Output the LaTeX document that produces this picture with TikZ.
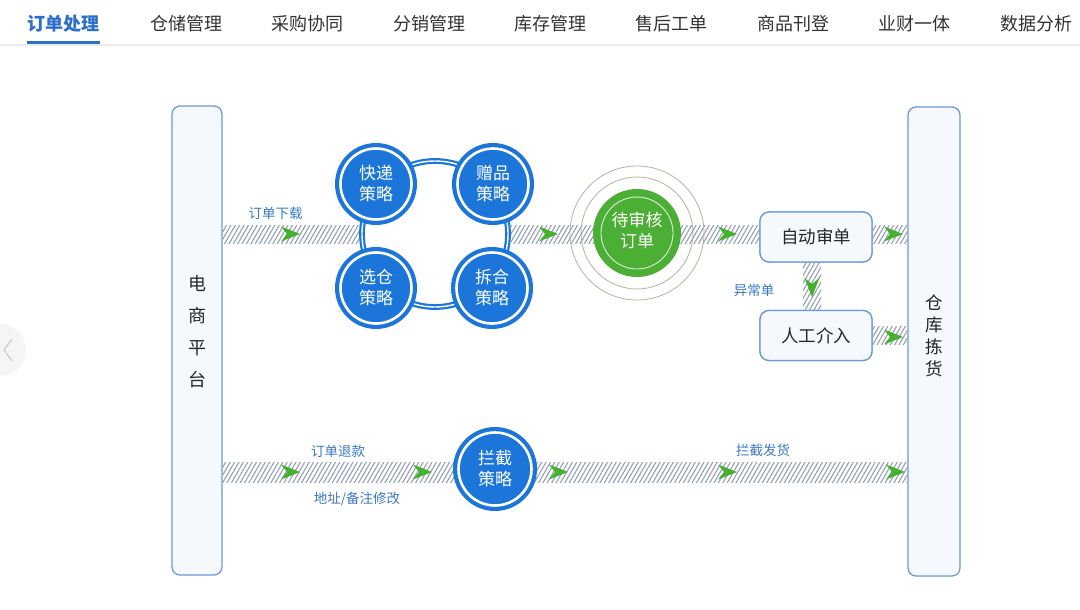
\documentclass[tikz,border=0pt]{standalone}
\usepackage{fontspec}
\setmainfont{Noto Sans CJK SC}
\usetikzlibrary{patterns.meta,calc}
\definecolor{tabtext}{HTML}{333333}
\definecolor{tabblue}{HTML}{2C6FCB}
\definecolor{lineg}{HTML}{EDEDED}
\definecolor{boxborder}{HTML}{6B9AD8}
\definecolor{boxfill}{HTML}{F5F8FD}
\definecolor{stratblue}{HTML}{1C76DA}
\definecolor{lblblue}{HTML}{3A78C8}
\definecolor{hatch}{HTML}{939FB5}
\definecolor{arrowgreen}{HTML}{45B02C}
\definecolor{pendgreen}{HTML}{4CAF35}
\definecolor{ringolive}{HTML}{B3B39C}
\tikzset{
  tab/.style={font=\fontsize{18}{20}\selectfont, text=tabtext, inner sep=0pt},
  tabactive/.style={tab, text=tabblue, font=\fontsize{18}{20}\selectfont\bfseries},
  sidebox/.style={draw=boxborder, line width=1.3pt, fill=boxfill, rounded corners=8pt, minimum width=50pt, minimum height=469pt, inner sep=0pt},
  sidetext/.style={align=center, text=black!85, inner sep=0pt},
  stepbox/.style={draw=boxborder, line width=1.3pt, fill=boxfill, rounded corners=9pt, minimum width=112pt, minimum height=50pt, font=\fontsize{17.5}{20}\selectfont, text=black!85},
  strat/.style={circle, fill=stratblue, minimum size=82pt, inner sep=0pt, align=center, text=white, font=\fontsize{17}{21}\selectfont},
  stratring/.style={draw=white, line width=2.6pt},
  band/.style={pattern={Lines[angle=60,distance=3.8pt,line width=1.1pt]}, pattern color=hatch},
  lbl/.style={text=lblblue, font=\fontsize{13.5}{16}\selectfont, inner sep=0pt},
  garrow/.style={fill=arrowgreen},
}
\newcommand{\garR}[2]{\fill[garrow] (#1,#2) -- ++(-19,-7.5) -- ++(6,7.5) -- ++(-6,7.5) -- cycle;}
\newcommand{\garD}[2]{\fill[garrow] (#1,#2) -- ++(-7.5,-19) -- ++(7.5,6) -- ++(7.5,-6) -- cycle;}
\begin{document}
\begin{tikzpicture}[x=1pt,y=-1pt]
\useasboundingbox (0,0) rectangle (1080,610);
\fill[white] (0,0) rectangle (1080,610);

% tab bar
\draw[lineg, line width=1.6pt] (0,45) -- (1080,45);
\node[tabactive] (t1) at (63.5,23.5) {订单处理};
\node[tab] (t2) at (186.5,23.5) {仓储管理};
\node[tab] (t3) at (307,23.5) {采购协同};
\node[tab] (t4) at (429,23.5) {分销管理};
\node[tab] (t5) at (550,23.5) {库存管理};
\node[tab] (t6) at (671,23.5) {售后工单};
\node[tab] (t7) at (793,23.5) {商品刊登};
\node[tab] (t8) at (914,23.5) {业财一体};
\node[tab] (t9) at (1036,23.5) {数据分析};
\draw[tabblue, line width=2.2pt] (t1.west |- 0,42.5) -- (t1.east |- 0,42.5);

% faint carousel control
\fill[black!4] (0,350) circle (26);
\draw[black!20, line width=1.2pt] (12,339) -- (4,350) -- (12,361);

% side boxes
\node[sidebox] (ec) at (197,340.5) {};
\node[sidetext, font=\fontsize{18}{32}\selectfont] (ect) at (197,332) {电\\商\\平\\台};
\node[sidebox, minimum width=52pt] (wh) at (934,341.5) {};
\node[sidetext, font=\fontsize{17.5}{22}\selectfont] (wht) at (934,336) {仓\\库\\拣\\货};

% row coordinates
\coordinate (row1) at (0,234);
\coordinate (row3) at (0,472);

% strategy cluster ring
\node[circle, minimum size=146pt, inner sep=0pt, draw=stratblue, line width=2.2pt, double=white, double distance=1.4pt] (ring) at (435,234) {};

% step boxes
\node[stepbox] (auto) at (816,237) {自动审单};
\node[stepbox] (manual) at (816,335.5) {人工介入};

% bands (connectors)
\fill[band] ($(ec.east |- row1)+(0,-9)$) rectangle ($(ring.west |- row1)+(-2,9)$);
\fill[band] ($(ring.east |- row1)+(2,-9)$) rectangle ($(auto.west |- row1)+(0,9)$);
\fill[band] ($(auto.east |- row1)+(0,-9)$) rectangle ($(wh.west |- row1)+(0,9)$);
\fill[band] ($(manual.east)+(0,-9)$) rectangle ($(manual.east -| wh.west)+(0,9)$);
\fill[band] ($(auto.south)+(-13,0)$) rectangle ($(manual.north)+(5,0)$);
\fill[band] ($(ec.east |- row3)+(0,-10)$) rectangle ($(wh.west |- row3)+(0,10)$);

% redraw boxes over band ends
\node[stepbox] at (auto) {自动审单};
\node[stepbox] at (manual) {人工介入};

% strategy circles
\node[strat] (kd) at (376,184) {快递\\策略};
\node[strat] (zp) at (493,184) {赠品\\策略};
\node[strat] (xc) at (376,288) {选仓\\策略};
\node[strat] (ch) at (492,288) {拆合\\策略};
\foreach \n in {kd,zp,xc,ch} {\draw[stratring] (\n.center) circle (35.5);}

% pending review circle
\draw[ringolive, line width=0.8pt] (637,233) circle (67);
\draw[ringolive, line width=0.8pt] (637,233) circle (56);
\node[circle, fill=pendgreen, minimum size=88pt, inner sep=0pt] (pend) at (637,233) {};
\draw[white!80!pendgreen, line width=0.9pt] (pend.center) circle (36);
\node[align=center, text=white, font=\fontsize{17}{21}\selectfont, inner sep=0pt] (pendt) at ($(pend.center)+(0,-3)$) {待审核\\订单};

% intercept strategy
\node[strat, minimum size=84pt] (lj) at (495,469) {拦截\\策略};
\draw[stratring] (lj.center) circle (36.5);

% green arrowheads
\garR{300}{234}
\garR{558}{234}
\garR{737}{234}
\garR{903}{234}
\garR{903}{337}
\garD{812}{297}
\garR{300}{472}
\garR{432}{472}
\garR{568}{472}
\garR{737}{472}
\garR{905}{472}

% labels
\node[lbl] (l1) at (275.5,213) {订单下载};
\node[lbl] (l2) at (754,290) {异常单};
\node[lbl] (l3) at (338,451) {订单退款};
\node[lbl] (l4) at (357,499) {地址/备注修改};
\node[lbl] (l5) at (763,450) {拦截发货};
\end{tikzpicture}
\end{document}
